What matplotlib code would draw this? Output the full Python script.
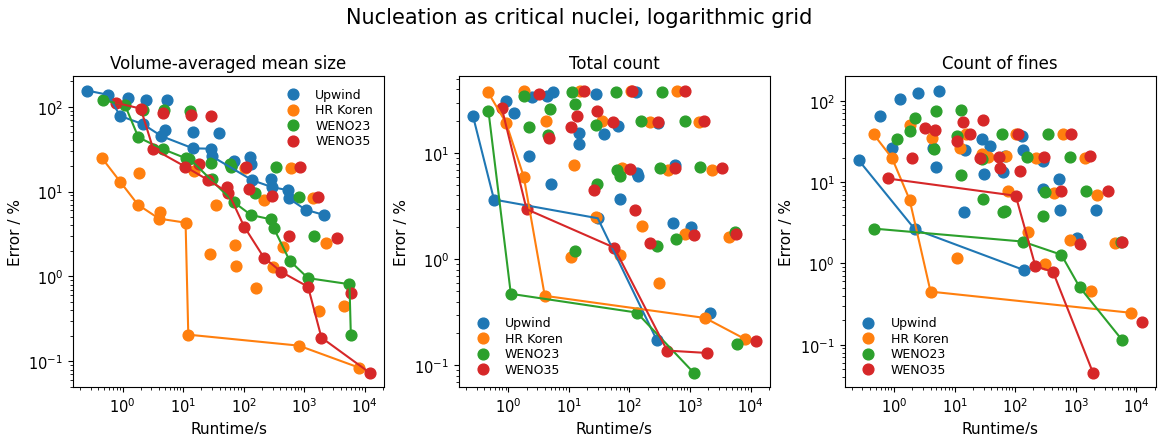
import matplotlib
matplotlib.use("Agg")
import matplotlib.pyplot as plt

SCHEMES = ["Upwind", "HR Koren", "WENO23", "WENO35"]
COLORS = ["tab:blue", "tab:orange", "tab:green", "tab:red"]

# runtime of every run (s); the same runs appear in all three panels
RT_UPWIND = [0.26, 0.58, 0.91, 1.25, 2.2, 2.45, 4.4, 5.0, 5.5, 14.5, 14.6, 28.5, 30,
             38.5, 64, 69, 128, 134, 139, 285, 292, 532, 558, 1060, 2140]
RT_KOREN = [0.46, 0.92, 1.8, 1.85, 4.0, 4.2, 11.0, 12.2, 15.2, 28, 35.5, 71, 76,
            105, 161, 218, 305, 440, 615, 815, 1400, 1780, 2280, 4480, 8150]
RT_WENO23 = [0.47, 1.1, 1.83, 2.2, 4.6, 4.9, 11.1, 12.7, 12.8, 28.5, 29.5, 60, 62,
             69, 132, 155, 285, 315, 345, 577, 815, 1160, 1470, 5600, 5900]
RT_WENO35 = [0.78, 2.0, 3.2, 4.7, 10.8, 13.5, 18, 26.3, 29.3, 54, 56, 102, 110,
             122, 216, 298, 420, 565, 840, 1160, 1720, 1930, 3430, 5830, 12200]

# error (%) per run, same order as the runtimes
ERR_MEAN_UPWIND = [155, 138, 78, 126, 62, 121, 45, 53, 121, 51, 32.3, 32, 26, 49, 21,
                   23, 25.8, 21, 13.6, 14, 11.3, 10.4, 8.3, 6.1, 5.3]
ERR_MEAN_KOREN = [24.7, 13, 7.0, 16.4, 4.8, 5.8, 4.3, 0.206, 17.5, 1.83, 6.9, 2.34, 1.32,
                  19, 0.73, 7.9, 1.28, 2.2, 19, 0.153, 8.3, 0.39, 2.5, 0.45, 0.084]
ERR_MEAN_WENO23 = [120, 104, 43.5, 92, 31.7, 92, 24.7, 24.5, 90, 22, 14.0, 21, 19.5, 7.5,
                   5.3, 9.5, 4.7, 3.7, 19.7, 1.53, 8.7, 0.955, 2.96, 0.81, 0.204]
ERR_MEAN_WENO35 = [111, 95, 32, 84, 19.7, 80, 21, 13.6, 78, 11.3, 9.7, 3.87, 19.5, 10.6,
                   1.67, 8.8, 1.13, 2.96, 19.5, 0.755, 8.6, 0.19, 2.8, 0.64, 0.073]

ERR_TOTAL_UPWIND = [22.6, 3.66, 31.3, 24, 9.5, 34, 35, 5.1, 37.6, 15.6, 12.2, 36.5, 2.44,
                    15.2, 18, 3.74, 37.6, 6.5, 6.1, 0.172, 19.4, 2.19, 7.7, 2.0, 0.31]
ERR_TOTAL_KOREN = [37.8, 19.3, 6, 39, 0.453, 20, 1.05, 7.8, 38.4, 2.5, 20, 1.1, 7.3,
                   38.4, 2.04, 19.6, 0.6, 6.9, 38.4, 1.74, 19.6, 0.28, 6.9, 1.63, 0.177]
ERR_TOTAL_WENO23 = [24.9, 0.473, 34.5, 17.7, 15, 26.2, 37.8, 1.19, 29.2, 18.6, 5.1, 38,
                    6.9, 6.1, 0.315, 20, 1.35, 7.3, 38, 1.57, 20, 0.085, 7.4, 1.8, 0.159]
ERR_TOTAL_WENO35 = [26.7, 2.97, 36.5, 13.9, 17.6, 22.3, 38.4, 4.55, 24.9, 19.7, 1.29, 7.1,
                    38.4, 2.9, 1.44, 19.8, 0.138, 7.3, 38.4, 1.7, 20, 0.131, 7.3, 1.73, 0.171]

ERR_FINES_UPWIND = [18.6, 66, 26.6, 104, 2.63, 125, 26.6, 15.4, 134, 4.25, 24.6, 33.6,
                    12.5, 27.9, 13.4, 21, 37, 24.6, 0.83, 18.2, 8.2, 10.9, 4.6, 2.08, 4.6]
ERR_FINES_KOREN = [38.7, 19.9, 6.1, 50.4, 0.45, 35.2, 1.18, 26.6, 38.7, 22, 20.6, 21, 7.8,
                   38.7, 2.47, 20, 0.98, 7.3, 38.7, 1.95, 20, 0.46, 7.0, 1.76, 0.247]
ERR_FINES_WENO23 = [2.68, 33.6, 42.5, 62, 25.4, 74.7, 37, 12.2, 78, 19.1, 6.2, 38.7, 4.3,
                    4.4, 1.86, 20.6, 3.8, 7.5, 38.7, 1.28, 20.6, 0.51, 7.8, 1.86, 0.113]
ERR_FINES_WENO35 = [11.1, 20, 46.7, 43.3, 32, 55.3, 38.7, 20, 59, 20.4, 15.1, 6.8, 38.7,
                    13.8, 0.92, 20.6, 0.79, 7.7, 38.7, 1.73, 21, 0.045, 7.7, 1.86, 0.193]

# runs joined by the efficiency line (indices into the lists above)
FRONT_MEAN_UPWIND = [0, 1, 2, 4, 6, 10, 11, 12, 18, 20, 21, 22, 23, 24]
FRONT_MEAN_KOREN = [0, 1, 2, 4, 6, 7, 19, 24]
FRONT_MEAN_WENO23 = [0, 1, 2, 4, 6, 7, 13, 14, 16, 17, 19, 21, 23, 24]
FRONT_MEAN_WENO35 = [0, 1, 2, 4, 7, 10, 11, 14, 16, 19, 21, 24]

FRONT_TOTAL_UPWIND = [0, 1, 12, 19]
FRONT_TOTAL_KOREN = [0, 1, 2, 4, 21, 24]
FRONT_TOTAL_WENO23 = [0, 1, 14, 21]
FRONT_TOTAL_WENO35 = [0, 1, 10, 16, 21]

FRONT_FINES_UPWIND = [0, 4, 18]
FRONT_FINES_KOREN = [0, 1, 2, 4, 24]
FRONT_FINES_WENO23 = [0, 14, 19, 21, 24]
FRONT_FINES_WENO35 = [0, 11, 14, 16, 21]

RUNTIMES = [RT_UPWIND, RT_KOREN, RT_WENO23, RT_WENO35]
PANELS = [
    ("Volume-averaged mean size",
     [ERR_MEAN_UPWIND, ERR_MEAN_KOREN, ERR_MEAN_WENO23, ERR_MEAN_WENO35],
     [FRONT_MEAN_UPWIND, FRONT_MEAN_KOREN, FRONT_MEAN_WENO23, FRONT_MEAN_WENO35],
     "upper right"),
    ("Total count",
     [ERR_TOTAL_UPWIND, ERR_TOTAL_KOREN, ERR_TOTAL_WENO23, ERR_TOTAL_WENO35],
     [FRONT_TOTAL_UPWIND, FRONT_TOTAL_KOREN, FRONT_TOTAL_WENO23, FRONT_TOTAL_WENO35],
     "lower left"),
    ("Count of fines",
     [ERR_FINES_UPWIND, ERR_FINES_KOREN, ERR_FINES_WENO23, ERR_FINES_WENO35],
     [FRONT_FINES_UPWIND, FRONT_FINES_KOREN, FRONT_FINES_WENO23, FRONT_FINES_WENO35],
     "lower left"),
]

fig, axes = plt.subplots(1, 3, figsize=(11.58, 4.35), dpi=100)
fig.subplots_adjust(left=0.063, right=0.998, bottom=0.108, top=0.822, wspace=0.24)

for ax, (title, errors, fronts, loc) in zip(axes, PANELS):
    for name, color, rt, err, front in zip(SCHEMES, COLORS, RUNTIMES, errors, fronts):
        ax.scatter(rt, err, s=60, color=color, label=name)
        ax.plot([rt[i] for i in front], [err[i] for i in front], color=color, lw=1.5)
    ax.set_xscale("log")
    ax.set_yscale("log")
    ax.set_xlabel("Runtime/s", fontsize=11)
    ax.set_ylabel("Error / %", fontsize=11)
    ax.set_title(title, fontsize=12)
    ax.tick_params(labelsize=10.5)
    ax.legend(loc=loc, fontsize=9, frameon=False, labelspacing=0.2)

fig.suptitle("Nucleation as critical nuclei, logarithmic grid", fontsize=15, y=0.982)
fig.savefig("out.png", dpi=100)
